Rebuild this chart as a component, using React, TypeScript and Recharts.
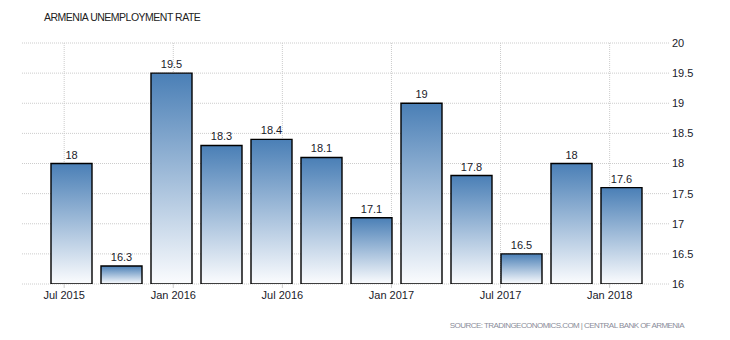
import React from "react";
import { BarChart, Bar, XAxis, YAxis, CartesianGrid, LabelList } from "recharts";

const quarters = [
  "Jun 2015", "Sep 2015", "Dec 2015", "Mar 2016", "Jun 2016", "Sep 2016",
  "Dec 2016", "Mar 2017", "Jun 2017", "Sep 2017", "Dec 2017", "Mar 2018",
];
const rates = [18, 16.3, 19.5, 18.3, 18.4, 18.1, 17.1, 19, 17.8, 16.5, 18, 17.6];
const tickLabels = ["Jul 2015", "Jan 2016", "Jul 2016", "Jan 2017", "Jul 2017", "Jan 2018"];
const tickIndex = [0, 2, 4, 6, 8, 10];
const yTicks = [16, 16.5, 17, 17.5, 18, 18.5, 19, 19.5, 20];

const data = quarters.map((q, i) => ({ q, v: rates[i] }));
// month-offset ticks: one month after the quarter-end bar (1/3 of a quarter)
const xTicks = tickIndex.map((i) => i + 1 / 3);
const labelFor = (v: number) => {
  const k = xTicks.findIndex((t) => Math.abs(t - v) < 1e-6);
  return k >= 0 ? tickLabels[k] : "";
};

const FONT = "'Liberation Sans', Arial, sans-serif";
const PAD = { left: 24, right: 23 };

const vGen = (props: any) => {
  const sc = props?.xAxis?.scale;
  if (typeof sc === "function") return xTicks.map((t) => sc(t));
  if (sc && typeof sc.map === "function") return xTicks.map((t) => sc.map(t));
  return [];
};

export default function App() {
  return (
    <div style={{ position: "absolute", left: 0, top: 0, width: 730, height: 340, background: "#fff", fontFamily: FONT }}>
      <div style={{ position: "absolute", left: 44, top: 11, fontSize: 10.5, letterSpacing: -0.5, color: "#222", whiteSpace: "nowrap" }}>
        ARMENIA UNEMPLOYMENT RATE
      </div>
      <BarChart
        width={730}
        height={340}
        data={data}
        margin={{ top: 43, right: 0, bottom: 0, left: 22 }}
      >
        <defs>
          <linearGradient id="barGrad" x1="0" y1="0" x2="0" y2="1">
            <stop offset="0%" stopColor="#4a7fb6" />
            <stop offset="100%" stopColor="#fbfcfe" />
          </linearGradient>
        </defs>
        <CartesianGrid xAxisId="t" stroke="#cccccc" strokeDasharray="1 1" verticalCoordinatesGenerator={vGen} />
        <XAxis dataKey="q" hide height={0} padding={PAD} />
        <XAxis
          xAxisId="t"
          type="number"
          domain={[-0.5, 11.5]}
          allowDataOverflow
          ticks={xTicks}
          tickFormatter={labelFor}
          padding={PAD}
          height={56}
          axisLine={false}
          tickLine={{ stroke: "#cccccc" }}
          tickSize={4}
          tickMargin={3}
          tick={{ fill: "#1a1a2a", fontSize: 11, fontFamily: FONT }}
          interval={0}
        />
        <YAxis
          orientation="right"
          domain={[16, 20]}
          ticks={yTicks}
          allowDataOverflow
          width={61}
          axisLine={false}
          tickLine={false}
          tickSize={0}
          tickMargin={3}
          tick={{ fill: "#1a1a2a", fontSize: 11, fontFamily: FONT }}
        />
        <Bar dataKey="v" barSize={41} fill="url(#barGrad)" stroke="#000" strokeWidth={1.4} isAnimationActive={false}>
          <LabelList dataKey="v" position="top" offset={5} fill="#1a1a2a" fontSize={11} fontFamily={FONT} />
        </Bar>
      </BarChart>
      <div style={{ position: "absolute", right: 46, top: 321, fontSize: 8, letterSpacing: -0.55, color: "#8a8c99", whiteSpace: "nowrap" }}>
        SOURCE: TRADINGECONOMICS.COM | CENTRAL BANK OF ARMENIA
      </div>
    </div>
  );
}
